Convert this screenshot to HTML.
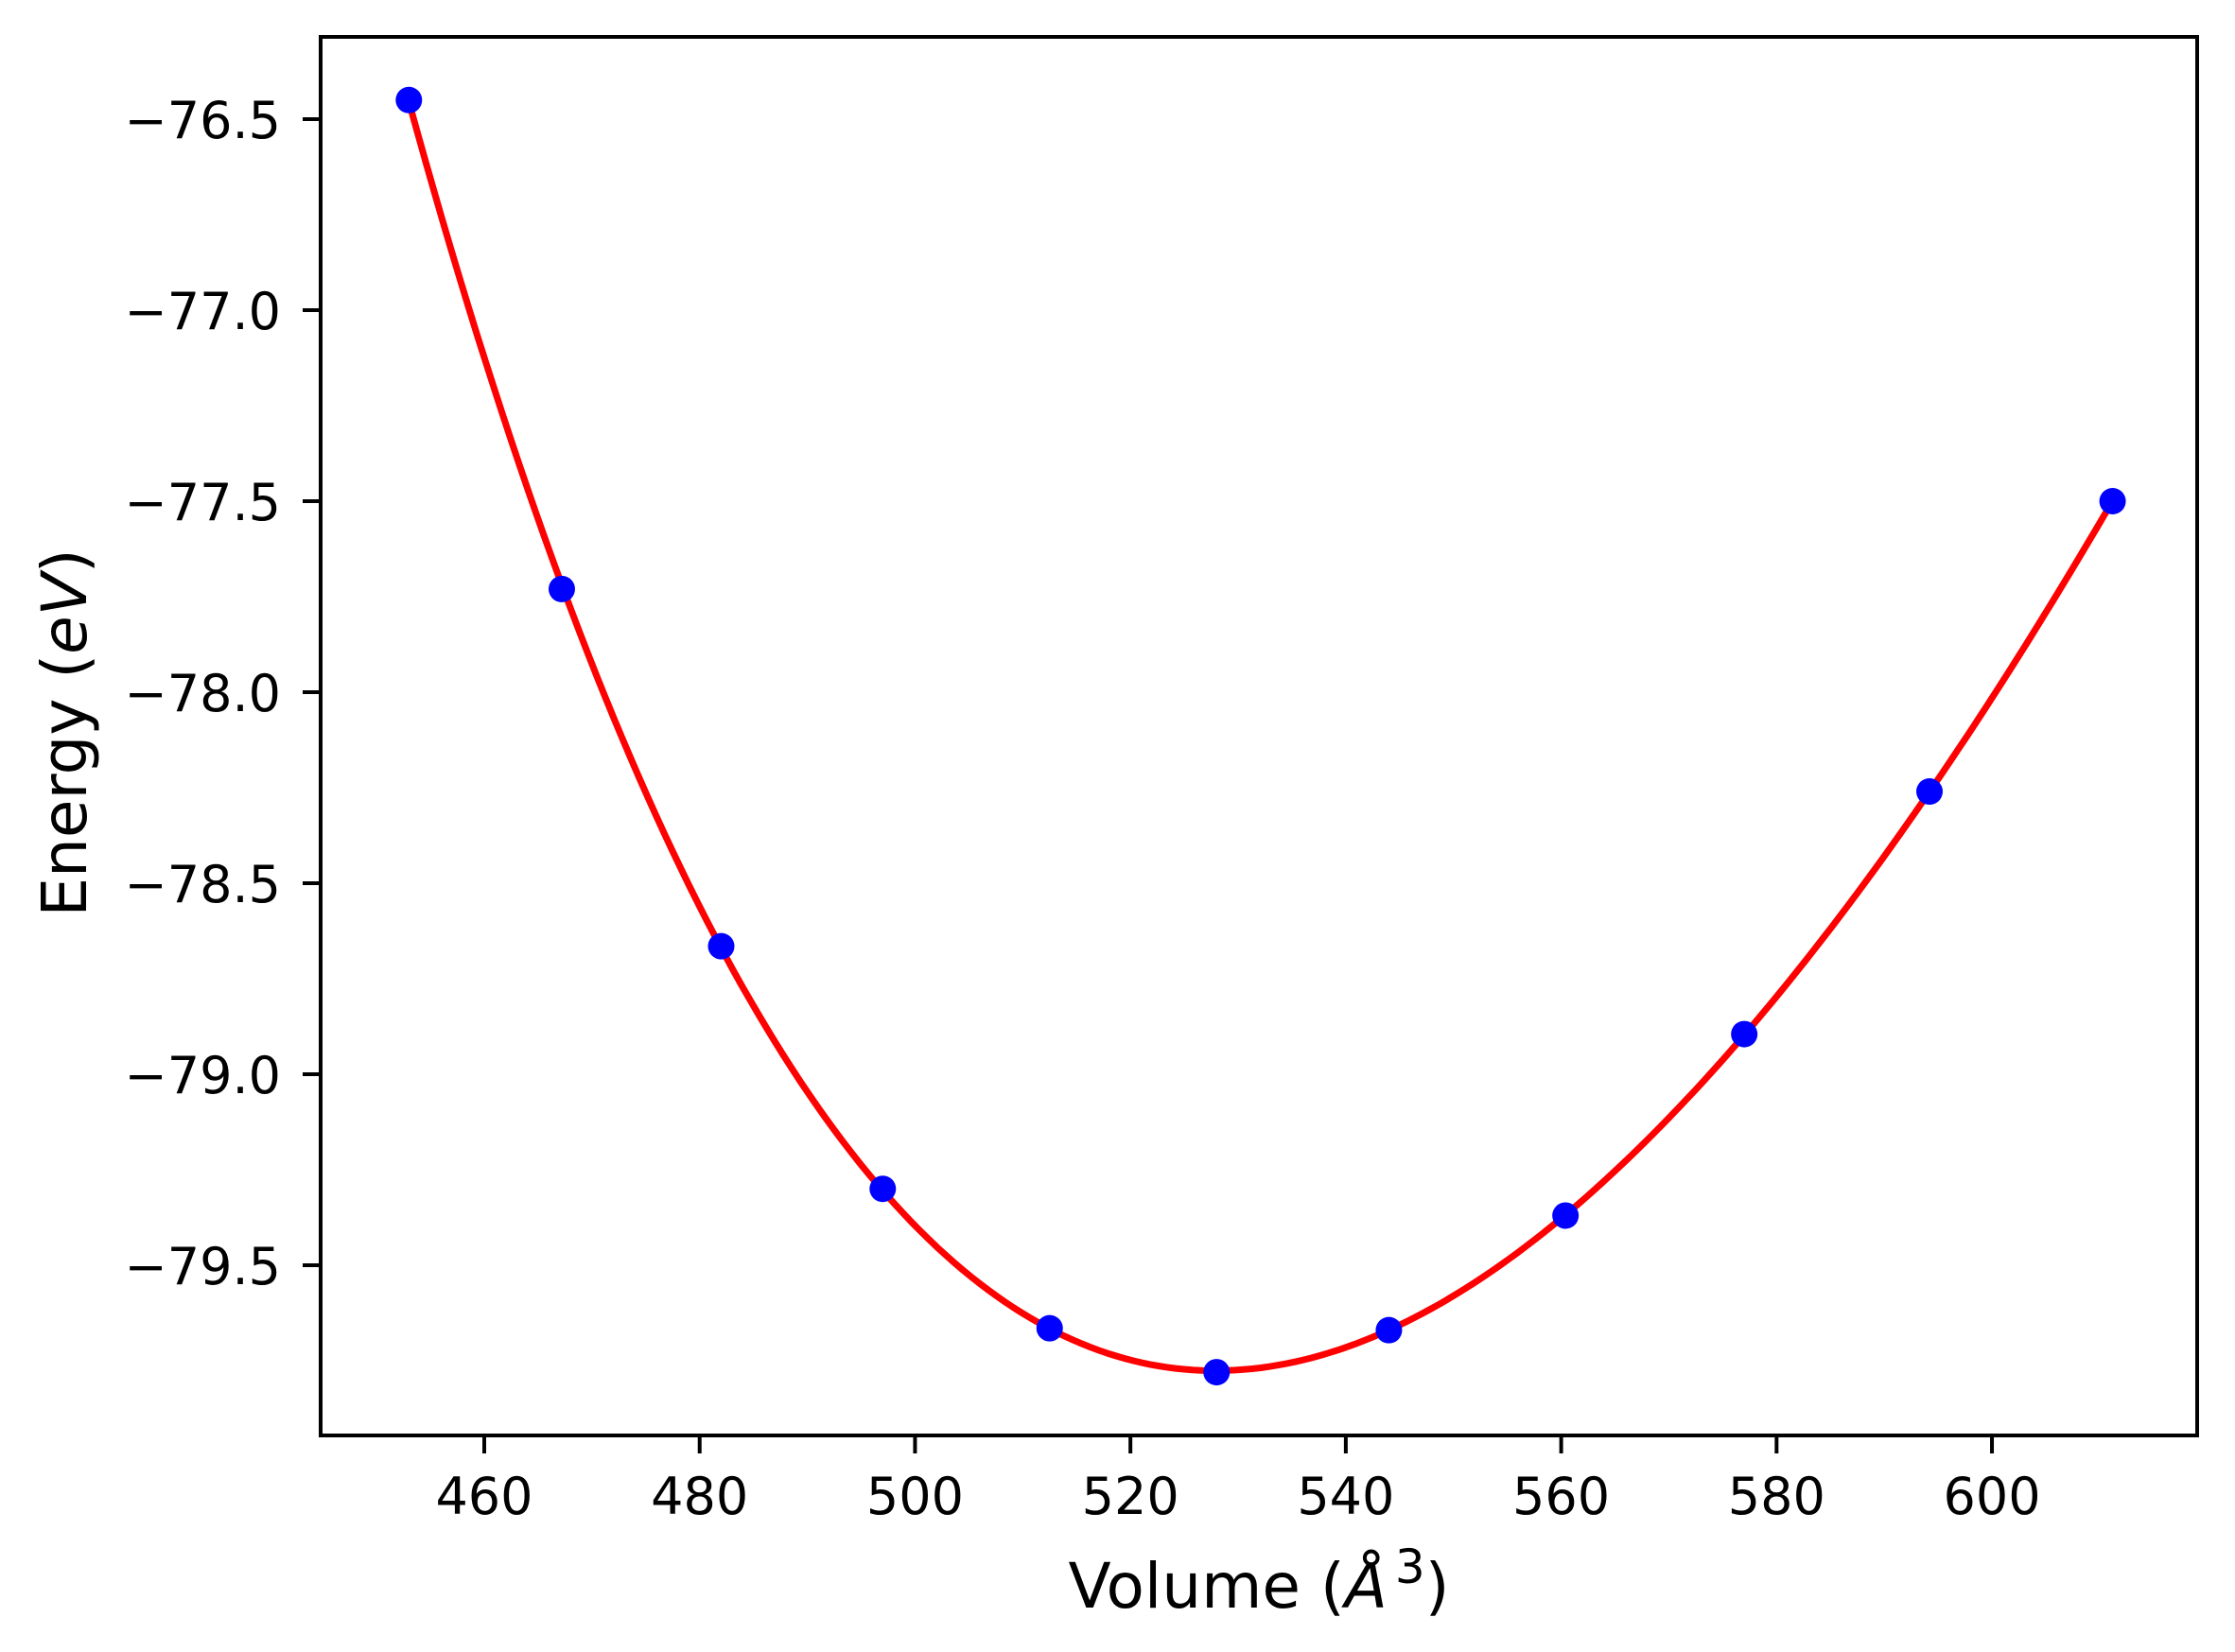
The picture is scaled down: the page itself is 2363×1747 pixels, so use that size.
<!DOCTYPE html>
<html><head><meta charset="utf-8"><style>
html,body{margin:0;padding:0;background:#fff;}
svg{display:block;font-family:"DejaVu Sans","Liberation Sans",sans-serif;}
</style></head><body>
<svg id="chart" width="2363" height="1747" viewBox="0 0 2363 1747" xmlns="http://www.w3.org/2000/svg">
<rect width="2363" height="1747" fill="#fff"/>
<g id="xticks"></g>
<g id="yticks"></g>
<path id="fit" fill="none" stroke="#ff0000" stroke-width="7" stroke-linejoin="round"/>
<g id="pts"></g>
<rect x="339" y="39" width="1984" height="1479" fill="none" stroke="#000" stroke-width="4"/>
<text x="1331" y="1700" font-size="66" text-anchor="middle">Volume (<tspan font-style="italic">Å</tspan><tspan font-size="50" dx="8" dy="-26">3</tspan><tspan dy="26">)</tspan></text>
<text transform="translate(91,775) rotate(-90)" font-size="66" text-anchor="middle">Energy (<tspan font-style="italic">eV</tspan>)</text>
</svg>
<script>
const volumes = [453, 467.2, 482, 497, 512.5, 528, 544, 560.4, 577, 594.2, 611.2];
const energies = [-76.45, -77.73, -78.665, -79.30, -79.665, -79.78, -79.67, -79.37, -78.895, -78.26, -77.50];
const xTicks = [460, 480, 500, 520, 540, 560, 580, 600];
const yTicks = [-76.5, -77.0, -77.5, -78.0, -78.5, -79.0, -79.5];
const NS = 'http://www.w3.org/2000/svg';
function sx(v){ return 512 + (v - 460) * 11.386; }
function sy(e){ return 126 + (-76.5 - e) * 404; }
function mk(tag, attrs, parent){ const el = document.createElementNS(NS, tag); for (const k in attrs) el.setAttribute(k, attrs[k]); parent.appendChild(el); return el; }
const xt = document.getElementById('xticks');
xTicks.forEach(t => {
  const l = mk('line', {x1: sx(t), x2: sx(t), y1: 1518, y2: 1537, stroke: '#000', 'stroke-width': 4}, xt);
  
  
  const tx = mk('text', {x: sx(t), y: 1601, 'font-size': 54, 'text-anchor': 'middle'}, xt);
  
  
  tx.textContent = String(t);
});
const yt = document.getElementById('yticks');
yTicks.forEach(t => {
  const l = mk('line', {x1: 320, x2: 339, y1: sy(t), y2: sy(t), stroke: '#000', 'stroke-width': 4}, yt);
  
  
  const tx = mk('text', {x: 297, y: sy(t) + 20, 'font-size': 54, 'text-anchor': 'end'}, yt);
  
  
  tx.textContent = '\u2212' + Math.abs(t).toFixed(1);
});
(function(){
  const n = volumes.length, deg = 4;
  const m = 532, s = 80;
  const A = [], b = [];
  for (let i = 0; i <= deg; i++){ A.push(new Array(deg + 1).fill(0)); b.push(0); }
  for (let k = 0; k < n; k++){
    const u = (volumes[k] - m) / s;
    for (let i = 0; i <= deg; i++){
      for (let j = 0; j <= deg; j++) A[i][j] += Math.pow(u, i + j);
      b[i] += energies[k] * Math.pow(u, i);
    }
  }
  for (let i = 0; i <= deg; i++){
    let p = i; for (let r = i + 1; r <= deg; r++) if (Math.abs(A[r][i]) > Math.abs(A[p][i])) p = r;
    [A[i], A[p]] = [A[p], A[i]]; [b[i], b[p]] = [b[p], b[i]];
    for (let r = 0; r <= deg; r++){ if (r === i) continue; const f = A[r][i] / A[i][i];
      for (let c = i; c <= deg; c++) A[r][c] -= f * A[i][c]; b[r] -= f * b[i]; }
  }
  const coef = b.map((v, i) => v / A[i][i]);
  const v0 = volumes[0], v1 = volumes[n - 1];
  let d = '';
  for (let q = 0; q <= 200; q++){
    const v = v0 + (v1 - v0) * q / 200, u = (v - m) / s;
    let e = 0; for (let i = 0; i <= deg; i++) e += coef[i] * Math.pow(u, i);
    d += (q ? 'L' : 'M') + sx(v).toFixed(1) + ' ' + sy(e).toFixed(1);
  }
  document.getElementById('fit').setAttribute('d', d);
})();
const pg = document.getElementById('pts');
volumes.forEach((v, i) => {
  const c = mk('circle', {cx: sx(v), cy: sy(energies[i]), r: 14, fill: '#0000ff'}, pg);
  
  
});
</script>
</body></html>
